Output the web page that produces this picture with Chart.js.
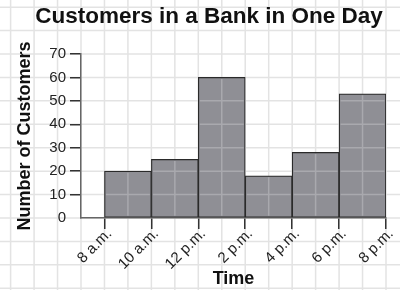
<!DOCTYPE html>
<html>
<head>
<meta charset="utf-8">
<script src="https://cdn.jsdelivr.net/npm/chart.js@4/dist/chart.umd.min.js"></script>
<style>
html,body{margin:0;padding:0;background:#fff;}
#wrap{width:400px;height:290px;}
</style>
</head>
<body>
<div id="wrap"><canvas id="c" width="400" height="290"></canvas></div>
<script>
// ---- data ----
const binEdges = [8, 10, 12, 14, 16, 18, 20];
const timeLabels = ['8 a.m.', '10 a.m.', '12 p.m.', '2 p.m.', '4 p.m.', '6 p.m.', '8 p.m.'];
const customers = [20, 25, 60, 18, 28, 53];
const yTickValues = [0, 10, 20, 30, 40, 50, 60, 70];
const chartTitle = 'Customers in a Bank in One Day';
const xTitle = 'Time';
const yTitle = 'Number of Customers';

const FONT = "'Liberation Sans', Arial, sans-serif";

const points = customers.map((v, i) => ({ x: (binEdges[i] + binEdges[i + 1]) / 2, y: v }));

function drawGrid(ctx, xs, ys, color) {
  ctx.strokeStyle = color;
  ctx.lineWidth = 1.5;
  ctx.beginPath();
  for (let h = -20; h <= 40; h++) {
    const px = xs.getPixelForValue(h);
    ctx.moveTo(px, -5); ctx.lineTo(px, 300);
  }
  for (let v = -100; v <= 200; v += 10) {
    const py = ys.getPixelForValue(v);
    ctx.moveTo(-5, py); ctx.lineTo(405, py);
  }
  ctx.stroke();
}

const graphPaper = {
  id: 'graphPaper',
  beforeDraw(chart) {
    const { ctx, scales } = chart;
    ctx.save();
    ctx.fillStyle = '#ffffff';
    ctx.fillRect(0, 0, chart.width, chart.height);
    drawGrid(ctx, scales.x, scales.y, '#e3e3e3');
    ctx.restore();
  },
  afterDatasetsDraw(chart) {
    const { ctx, scales } = chart;
    const meta = chart.getDatasetMeta(0);
    meta.data.forEach(bar => {
      const p = bar.getProps(['x', 'y', 'base', 'width'], true);
      ctx.save();
      ctx.beginPath();
      ctx.rect(p.x - p.width / 2 + 1.5, p.y + 1.5, p.width - 3, p.base - p.y - 3);
      ctx.clip();
      drawGrid(ctx, scales.x, scales.y, '#a9a9ae');
      ctx.restore();
    });
  }
};

new Chart(document.getElementById('c'), {
  type: 'bar',
  data: {
    datasets: [{
      data: points,
      backgroundColor: '#8f8f95',
      borderColor: '#2a2a2a',
      borderWidth: 1.2,
      borderSkipped: false,
      barPercentage: 1,
      categoryPercentage: 1
    }]
  },
  options: {
    responsive: false,
    devicePixelRatio: 1,
    animation: false,
    layout: { padding: { left: 32, right: 14, top: 0, bottom: 0 } },
    plugins: {
      legend: { display: false },
      tooltip: { enabled: false },
      title: {
        display: true,
        text: chartTitle,
        color: '#111',
        font: { family: FONT, size: 22.5, weight: 'bold', lineHeight: 1.2 },
        padding: { top: 3.5, bottom: 23.5 }
      }
    },
    scales: {
      x: {
        type: 'linear',
        min: 7,
        max: 20,
        offset: false,
        grid: {
          offset: false,
          drawOnChartArea: false,
          drawTicks: true,
          tickLength: 11,
          color: '#333',
          lineWidth: 1.5
        },
        border: { display: true, color: '#666', width: 1.5 },
        afterBuildTicks(scale) { scale.ticks = binEdges.map(v => ({ value: v })); },
        afterFit(scale) { scale.height = 72; scale.paddingLeft = 0; scale.paddingRight = 0; },
        ticks: {
          autoSkip: false,
          minRotation: 45,
          maxRotation: 45,
          padding: -4,
          labelOffset: 5,
          color: '#222',
          font: { family: FONT, size: 15 },
          callback: (value) => timeLabels[binEdges.indexOf(value)]
        },
        title: {
          display: true,
          text: xTitle,
          color: '#111',
          font: { family: FONT, size: 18, weight: 'bold', lineHeight: 1.2 },
          padding: { top: 0, bottom: 0 }
        }
      },
      y: {
        min: 0,
        max: 70,
        grid: {
          drawOnChartArea: false,
          drawTicks: true,
          tickLength: 11,
          color: (ctx) => (ctx.tick && ctx.tick.value === 0) ? 'rgba(0,0,0,0)' : '#333',
          lineWidth: 1.5
        },
        border: { display: true, color: '#666', width: 1.5 },
        afterBuildTicks(scale) { scale.ticks = yTickValues.map(v => ({ value: v })); },
        afterFit(scale) { scale.width = 49; scale.paddingTop = 0; scale.paddingBottom = 0; },
        ticks: {
          padding: 4,
          color: '#222',
          font: { family: FONT, size: 15 }
        },
        title: {
          display: true,
          text: yTitle,
          color: '#111',
          font: { family: FONT, size: 18, weight: 'bold', lineHeight: 1.2 },
          padding: { top: -17.8, bottom: 0 }
        }
      }
    }
  },
  plugins: [graphPaper]
});
</script>
</body>
</html>
